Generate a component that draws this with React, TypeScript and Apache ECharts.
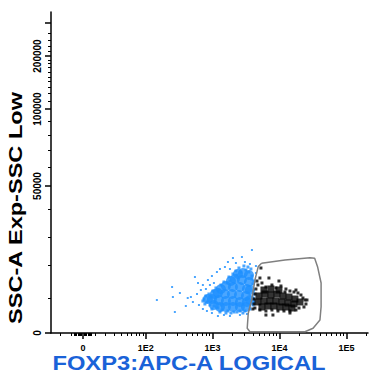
import { useEffect, useRef } from 'react';
import * as echarts from 'echarts';

// FOXP3 (APC-A) uses a biexponential display: asinh with this linear width.
const APC_LINEAR_WIDTH = 23.3;
const X_RANGE = [-31, 209500];

// SSC-A "Exp" display scale: raw value -> display position (0..321).
const SSC_SCALE_VALUES = [0, 10000, 20000, 30000, 40000, 50000, 60000, 70000, 80000, 90000, 100000, 110000, 120000, 130000, 140000, 150000, 160000, 170000, 180000, 190000, 200000, 210000, 220000, 230000, 240000, 250000, 262144];
const SSC_SCALE_POS = [0, 35, 68, 96, 124, 147, 166, 183, 198, 212, 224, 232, 240, 246, 252, 256, 261, 266, 270, 273, 277, 282, 287, 293, 300, 310, 321];

const X_TITLE = 'FOXP3:APC-A LOGICAL';
const Y_TITLE = 'SSC-A Exp-SSC Low';

const X_MAJOR_TICKS = [0, 100, 1000, 10000, 100000];
const X_TICK_LABELS = ['0', '1E2', '1E3', '1E4', '1E5'];
const X_MINOR_TICKS = [-20, -10, -7, -6, -5, -4, -3, -2, -1, 1, 2, 3, 4, 5, 6, 7, 10, 20, 30, 40, 50, 60, 70, 80, 90, 200, 300, 400, 500, 600, 700, 800, 900, 2000, 3000, 4000, 5000, 6000, 7000, 8000, 9000, 20000, 30000, 40000, 50000, 60000, 70000, 80000, 90000, 200000];

const Y_MAJOR_TICKS = [0, 50000, 100000, 200000, 250000];
const Y_LABEL_VALUES = [0, 50000, 100000, 200000];
const Y_TICK_LABELS = ['0', '50000', '100000', '200000'];
const Y_MINOR_TICKS = [10000, 20000, 30000, 40000, 60000, 70000, 80000, 90000, 110000, 120000, 130000, 140000, 150000, 160000, 170000, 180000, 190000, 210000, 220000, 230000, 240000];

// Events [FOXP3 APC-A, SSC-A]; FOXP3- population (blue), dense centre
const FOXP3_NEG_CORE = [
  [2847, 17580], [3500, 16970], [2399, 17270], [2163, 15760], [2751, 15450], [3500, 14850],
  [1886, 15150], [1338, 12730],
  [1588, 13640], [2020, 13330], [2568, 13330], [3268, 12730], [3623, 12420],
  [1088, 11210], [1206, 11520], [1534, 11210], [1952, 11210], [2483, 10910], [3157, 10610],
  [855, 9710], [981, 9710], [1248, 9430], [1588, 9140], [2020, 9140], [2568, 8860], [3268, 8860], [3623, 9430],
  [1051, 8000], [1293, 7430], [1588, 7430], [2020, 7430], [2568, 7430], [3157, 7430],
];
// FOXP3- population, body edge
const FOXP3_NEG_EDGE = [
  [2239, 18180], [2483, 19090], [2947, 19700], [3382, 19390], [3750, 18790], [2020, 17270],
  [1761, 16360], [3881, 16670], [3157, 18480], [2658, 17880], [1822, 15150], [1483, 14850],
  [1338, 13940], [1126, 13030], [1015, 12120], [885, 11210], [798, 10610], [745, 9710],
  [826, 8860], [916, 8000], [1051, 7710], [1206, 7140], [1385, 6570], [1701, 6290],
  [2091, 6000], [2568, 6290], [3050, 6290], [3623, 6860], [4017, 8000], [4017, 10000],
  [4017, 12120], [4017, 14240], [3881, 15760], [2318, 16970], [1644, 14550], [1248, 12420],
  [948, 10300], [1088, 8570], [1338, 8000], [3500, 17880], [4157, 15150], [4157, 11210],
  [4157, 8860], [1886, 5710], [2318, 6000], [2847, 5710], [1588, 5710], [1293, 6000],
  [981, 6860], [771, 8290], [719, 9140],
];
// FOXP3- population, sparse events
const FOXP3_NEG_SPARSE = [
  [2239, 20710], [1534, 19390], [1293, 18790], [1165, 17880], [981, 16670], [855, 15450],
  [719, 13940], [608, 14550], [547, 16360], [671, 12420], [587, 11210], [510, 8860],
  [476, 10300], [427, 10000], [628, 8000], [719, 6860], [826, 6290], [981, 5710],
  [1206, 4860], [1483, 5140], [1822, 4860], [2568, 5140], [3268, 5430], [2020, 22500],
  [2751, 22860], [3881, 25360], [3050, 21070], [3623, 20360], [4452, 19700], [1701, 21070],
  [1051, 14550], [798, 12730], [326, 11520], [256, 10300], [249, 13330], [274, 6000],
  [147, 9430], [400, 7710], [916, 13940], [1822, 18790], [4452, 17580],
];
// FOXP3+ gated events (black), dense centre
const FOXP3_POS_CORE = [
  [4936, 10610], [6065, 11210], [7456, 10910], [9167, 11210], [11260, 10610], [13850, 10300], [17030, 9710],
  [4769, 8860], [5862, 9140], [7204, 9140], [8857, 9140], [10880, 8860], [13380, 8570], [16450, 8290], [20210, 8860],
  [5473, 7430], [6725, 7710], [8267, 7710], [10160, 7430], [12490, 7430], [15350, 7140],
  [5862, 12420], [7456, 12730], [9820, 12420],
];
// FOXP3+ gated events, edge and sparse
const FOXP3_POS_EDGE = [
  [4452, 12730], [4769, 13940], [4608, 15150], [5109, 16060], [5473, 14550], [6278, 13330],
  [7717, 13940], [8857, 13030], [10520, 13640], [12490, 12730], [14330, 12120], [16450, 11820],
  [18880, 11520], [20920, 10910], [22410, 10000], [24010, 9430], [24850, 8290], [23200, 7430],
  [19540, 7140], [17620, 6570], [14330, 6290], [11660, 6290], [9488, 6290], [7717, 6570],
  [6278, 6290], [5109, 6570], [4301, 7140], [4157, 8290], [4157, 9710], [4301, 11210],
  [5288, 19090], [6960, 16060], [9820, 15150], [17620, 12420], [12070, 11820], [4017, 6860],
  [6278, 5140], [7987, 5140], [14330, 5710], [25720, 9430],
];
// FOXP3+ gate outline
const GATE_VERTICES = [
  [5400, 20600], [12070, 21790], [28500, 22600], [33500, 22400], [37000, 19500],
  [41800, 14550], [41800, 7500], [40170, 3710], [31700, 1340], [24000, 370],
  [3623, 370], [3300, 1340], [3420, 5630], [3840, 9430], [4301, 15450], [4820, 19500],
];

const fx = (v: number) => Math.asinh(v / APC_LINEAR_WIDTH) / Math.LN10;

function fy(v: number) {
  const xs = SSC_SCALE_VALUES;
  const ps = SSC_SCALE_POS;
  if (v <= xs[0]) return ps[0] + ((v - xs[0]) * (ps[1] - ps[0])) / (xs[1] - xs[0]);
  for (let i = 1; i < xs.length; i++) {
    if (v <= xs[i]) {
      const t = (v - xs[i - 1]) / (xs[i] - xs[i - 1]);
      return ps[i - 1] + t * (ps[i] - ps[i - 1]);
    }
  }
  return ps[ps.length - 1];
}

const toDisplay = (pts: number[][]) => pts.map(([x, y]) => [fx(x), fy(y)]);

const FONT = '"Liberation Sans", Arial, Helvetica, sans-serif';
const BLUE = '#1e90ff';

function labelFor(value: number, positions: number[], labels: string[]) {
  for (let i = 0; i < positions.length; i++) {
    if (Math.abs(positions[i] - value) < 1e-6) return labels[i];
  }
  return '';
}

export default function App() {
  const ref = useRef<HTMLDivElement>(null);

  useEffect(() => {
    if (!ref.current) return;
    const chart = echarts.init(ref.current, undefined, { renderer: 'svg' });

    const xMin = fx(X_RANGE[0]);
    const xMax = fx(X_RANGE[1]);
    const yMin = fy(0);
    const yMax = fy(262144);
    const xMajor = X_MAJOR_TICKS.map(fx);
    const yMajor = Y_MAJOR_TICKS.map(fy);
    const yLabelPos = Y_LABEL_VALUES.map(fy);

    const gate = toDisplay(GATE_VERTICES);
    gate.push(gate[0]);

    const baseAxis = {
      type: 'value' as const,
      splitLine: { show: false },
    };

    chart.setOption({
      animation: false,
      backgroundColor: '#ffffff',
      grid: { left: 51, right: 3, top: 12, bottom: 41, containLabel: false, outerBoundsMode: 'none' },
      xAxis: [
        {
          ...baseAxis,
          position: 'bottom',
          min: xMin,
          max: xMax,
          axisLine: { show: true, onZero: false, lineStyle: { color: '#000', width: 1.5 } },
          axisTick: { show: true, customValues: xMajor, length: 6, lineStyle: { color: '#000', width: 1.5 } },
          axisLabel: {
            show: true,
            customValues: xMajor,
            formatter: (v: number) => labelFor(v, xMajor, X_TICK_LABELS),
            fontSize: 9,
            fontWeight: 'bold',
            fontFamily: FONT,
            color: '#000',
            margin: 10,
          },
        },
        {
          ...baseAxis,
          position: 'bottom',
          min: xMin,
          max: xMax,
          axisLine: { show: false, onZero: false },
          axisTick: { show: true, customValues: X_MINOR_TICKS.map(fx), length: 3, lineStyle: { color: '#000', width: 1 } },
          axisLabel: { show: false },
        },
      ],
      yAxis: [
        {
          ...baseAxis,
          position: 'left',
          min: yMin,
          max: yMax,
          axisLine: { show: true, onZero: false, lineStyle: { color: '#000', width: 1.5 } },
          axisTick: { show: true, customValues: yMajor, length: 6, lineStyle: { color: '#000', width: 1.5 } },
          axisLabel: {
            show: true,
            customValues: yLabelPos,
            formatter: (v: number) => labelFor(v, yLabelPos, Y_TICK_LABELS),
            rotate: 90,
            fontSize: 10,
            fontWeight: 'bold',
            fontFamily: FONT,
            color: '#000',
            margin: 9,
          },
        },
        {
          ...baseAxis,
          position: 'left',
          min: yMin,
          max: yMax,
          axisLine: { show: false, onZero: false },
          axisTick: { show: true, customValues: Y_MINOR_TICKS.map(fy), length: 3, lineStyle: { color: '#000', width: 1 } },
          axisLabel: { show: false },
        },
      ],
      series: [
        {
          type: 'scatter', name: 'FOXP3- sparse', data: toDisplay(FOXP3_NEG_SPARSE),
          symbol: 'rect', symbolSize: 2, itemStyle: { color: BLUE }, silent: true,
        },
        {
          type: 'scatter', name: 'FOXP3- edge', data: toDisplay(FOXP3_NEG_EDGE),
          symbol: 'rect', symbolSize: 3, itemStyle: { color: BLUE }, silent: true,
        },
        {
          type: 'scatter', name: 'FOXP3- core', data: toDisplay(FOXP3_NEG_CORE),
          symbol: 'circle', symbolSize: 10, itemStyle: { color: BLUE }, silent: true,
        },
        {
          type: 'scatter', name: 'FOXP3+ core', data: toDisplay(FOXP3_POS_CORE),
          symbol: 'rect', symbolSize: 7, itemStyle: { color: '#000' }, silent: true,
        },
        {
          type: 'scatter', name: 'FOXP3+ edge', data: toDisplay(FOXP3_POS_EDGE),
          symbol: 'rect', symbolSize: 3, itemStyle: { color: '#000' }, silent: true,
        },
        {
          type: 'line', name: 'gate', data: gate, showSymbol: false, symbol: 'none',
          lineStyle: { color: '#808080', width: 1.5 }, silent: true, z: 5,
        },
      ],
      graphic: [
        {
          type: 'text',
          x: 16,
          y: 208,
          rotation: Math.PI / 2,
          scaleX: 1.24,
          style: {
            text: Y_TITLE,
            font: `bold 19px ${FONT}`,
            fill: '#000',
            textAlign: 'center',
            textVerticalAlign: 'middle',
            align: 'center',
            verticalAlign: 'middle',
          },
        },
        {
          type: 'text',
          x: 189,
          y: 363,
          scaleX: 1.13,
          style: {
            text: X_TITLE,
            font: `bold 21px ${FONT}`,
            fill: '#1a62d8',
            textAlign: 'center',
            textVerticalAlign: 'middle',
            align: 'center',
            verticalAlign: 'middle',
          },
        },
      ],
    });

    return () => chart.dispose();
  }, []);

  return (
    <div
      ref={ref}
      style={{ position: 'fixed', left: 0, top: 0, width: 371, height: 374, background: '#fff' }}
    />
  );
}
